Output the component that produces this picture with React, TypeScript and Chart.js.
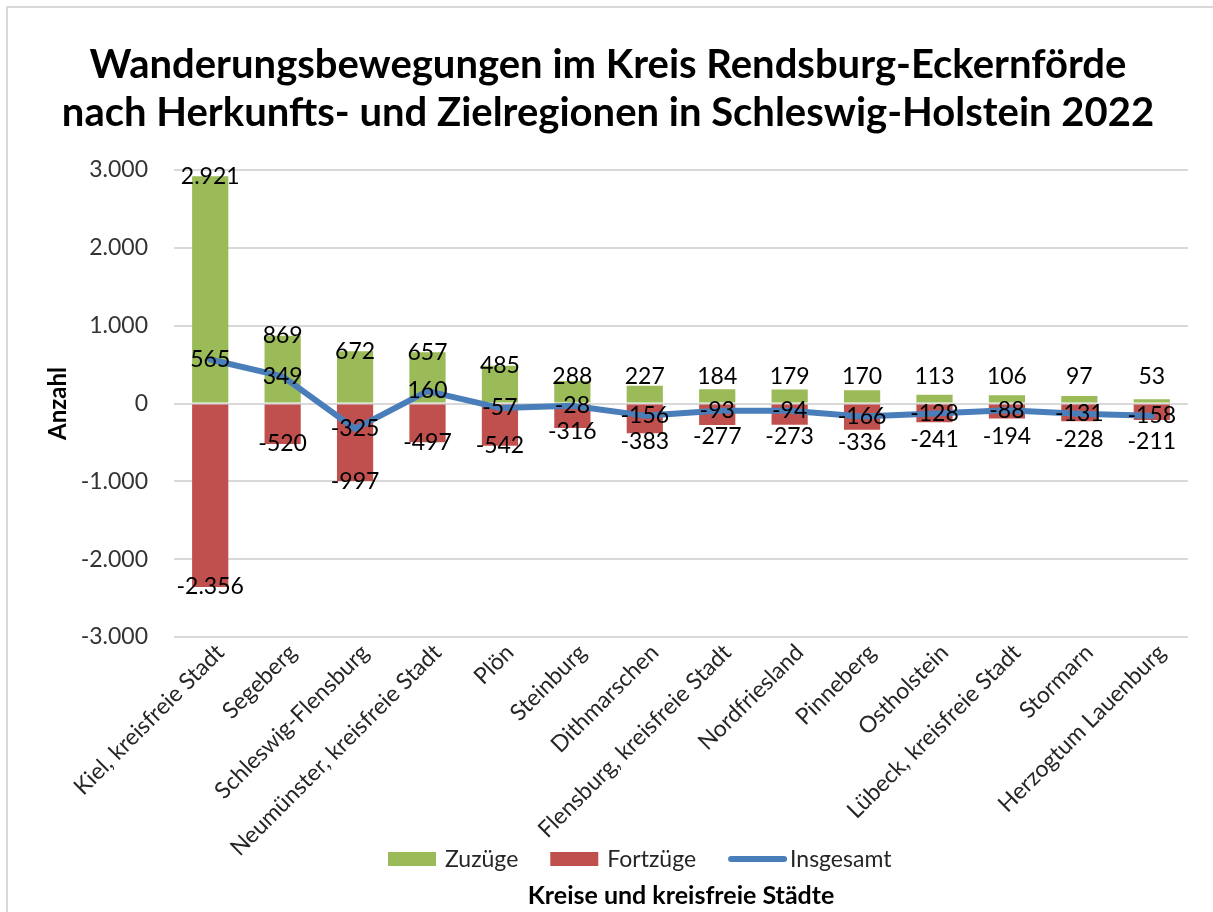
import React, { useEffect, useRef } from 'react';
import { Chart, registerables } from 'chart.js';

Chart.register(...registerables);

const titleLines = [
  'Wanderungsbewegungen im Kreis Rendsburg-Eckernförde',
  'nach Herkunfts- und Zielregionen in Schleswig-Holstein 2022',
];
const categories = [
  'Kiel, kreisfreie Stadt',
  'Segeberg',
  'Schleswig-Flensburg',
  'Neumünster, kreisfreie Stadt',
  'Plön',
  'Steinburg',
  'Dithmarschen',
  'Flensburg, kreisfreie Stadt',
  'Nordfriesland',
  'Pinneberg',
  'Ostholstein',
  'Lübeck, kreisfreie Stadt',
  'Stormarn',
  'Herzogtum Lauenburg',
];
const zuzuege = [2921, 869, 672, 657, 485, 288, 227, 184, 179, 170, 113, 106, 97, 53];
const fortzuege = [-2356, -520, -997, -497, -542, -316, -383, -277, -273, -336, -241, -194, -228, -211];
const insgesamt = [565, 349, -325, 160, -57, -28, -156, -93, -94, -166, -128, -88, -131, -158];
const yTickValues = [-3000, -2000, -1000, 0, 1000, 2000, 3000];
const seriesNames = ['Zuzüge', 'Fortzüge', 'Insgesamt'];
const xAxisTitle = 'Kreise und kreisfreie Städte';
const yAxisTitle = 'Anzahl';

const GREEN = '#9BBB59';
const RED = '#C0504D';
const BLUE = '#4A7EBB';
const FONT = 'Lato, "Open Sans", sans-serif';

const fmt = (v: number) => {
  const s = Math.abs(Math.round(v)).toString().replace(/\B(?=(\d{3})+(?!\d))/g, '.');
  return (v < 0 ? '-' : '') + s;
};

const valueLabels = {
  id: 'valueLabels',
  afterDatasetsDraw(chart: any) {
    const { ctx } = chart;
    const xs = chart.scales.x;
    const ys = chart.scales.y;
    const zero = ys.getPixelForValue(0);
    ctx.save();
    ctx.font = `23px ${FONT}`;
    ctx.fillStyle = '#000';
    ctx.textAlign = 'center';
    ctx.textBaseline = 'middle';
    categories.forEach((_, i) => {
      const px = xs.getPixelForValue(i);
      const lineY = ys.getPixelForValue(insgesamt[i]);
      const zy = Math.min(ys.getPixelForValue(zuzuege[i]), zero - 27);
      const fy = Math.max(ys.getPixelForValue(fortzuege[i]), lineY + 26);
      ctx.fillText(fmt(zuzuege[i]), px, zy);
      ctx.fillText(fmt(fortzuege[i]), px, fy);
      ctx.fillText(fmt(insgesamt[i]), px, lineY);
    });
    ctx.restore();
  },
};

const customLegend = {
  id: 'customLegend',
  afterDraw(chart: any) {
    const { ctx } = chart;
    const datasets = chart.data.datasets;
    const order = [1, 2, 0];
    ctx.save();
    ctx.font = `23px ${FONT}`;
    ctx.textBaseline = 'middle';
    ctx.textAlign = 'left';
    let x = 380;
    const y = chart.height - 53;
    order.forEach((di) => {
      const ds = datasets[di];
      if (ds.type === 'line') {
        ctx.strokeStyle = ds.borderColor;
        ctx.lineWidth = 6;
        ctx.lineCap = 'round';
        ctx.beginPath();
        ctx.moveTo(x + 3, y);
        ctx.lineTo(x + 56, y);
        ctx.stroke();
        x += 62;
      } else {
        ctx.fillStyle = ds.backgroundColor;
        ctx.fillRect(x, y - 7, 48, 14);
        x += 57;
      }
      ctx.fillStyle = '#262626';
      ctx.fillText(ds.label, x, y + 1);
      x += ctx.measureText(ds.label).width + 32;
    });
    ctx.restore();
  },
};

export default function App() {
  const ref = useRef<HTMLCanvasElement | null>(null);
  useEffect(() => {
    if (!ref.current) return;
    Chart.defaults.font.family = FONT;
    const chart = new Chart(ref.current, {
      type: 'bar',
      data: {
        labels: categories,
        datasets: [
          {
            type: 'line',
            label: seriesNames[2],
            data: insgesamt,
            borderColor: BLUE,
            backgroundColor: BLUE,
            borderWidth: 6,
            pointRadius: 0,
            borderCapStyle: 'round',
            borderJoinStyle: 'round',
            tension: 0,
            order: 0,
            stack: 'total',
          } as any,
          {
            type: 'bar',
            label: seriesNames[0],
            data: zuzuege,
            backgroundColor: GREEN,
            categoryPercentage: 0.5,
            barPercentage: 1,
            order: 1,
            stack: 'bars',
          },
          {
            type: 'bar',
            label: seriesNames[1],
            data: fortzuege,
            backgroundColor: RED,
            categoryPercentage: 0.5,
            barPercentage: 1,
            order: 1,
            stack: 'bars',
          },
        ],
      },
      options: {
        responsive: false,
        animation: false,
        layout: { padding: { left: 20, right: 25 } },
        plugins: {
          legend: { display: false },
          tooltip: { enabled: false },
          title: {
            display: true,
            text: titleLines,
            color: '#000',
            font: { size: 40, weight: 'bold', family: FONT, lineHeight: 1.2 },
            padding: { top: 33, bottom: 33 },
          },
        },
        scales: {
          x: {
            stacked: true,
            grid: { display: false, drawTicks: false },
            border: { display: false },
            ticks: {
              autoSkip: false,
              maxRotation: 45,
              minRotation: 45,
              color: '#262626',
              font: { size: 23 },
              padding: 2,
              labelOffset: 10,
            },
            title: {
              display: true,
              text: xAxisTitle,
              color: '#000',
              font: { size: 25, weight: 'bold' },
              padding: { top: 0, bottom: 1 },
            },
            afterFit: (s: any) => {
              s.height = 275;
            },
          },
          y: {
            stacked: true,
            min: -3000,
            max: 3000,
            afterBuildTicks: (s: any) => {
              s.ticks = yTickValues.map((v) => ({ value: v }));
            },
            ticks: {
              callback: (v: any) => fmt(Number(v)),
              color: '#333',
              font: { size: 23 },
              padding: 26,
            },
            grid: { color: '#D9D9D9', lineWidth: 2, drawTicks: false },
            border: { display: false },
            title: {
              display: true,
              text: yAxisTitle,
              color: '#000',
              font: { size: 24, weight: 'bold' },
              padding: { top: 16, bottom: 0 },
            },
            afterFit: (s: any) => {
              s.width = 146;
            },
          },
        },
      },
      plugins: [valueLabels, customLegend],
    });
    return () => chart.destroy();
  }, []);

  return (
    <div
      style={{
        position: 'fixed',
        top: 6,
        left: 6,
        borderTop: '2px solid #D9D9D9',
        borderLeft: '2px solid #D9D9D9',
        background: '#fff',
      }}
    >
      <canvas ref={ref} width={1205} height={904} style={{ display: 'block', width: 1205, height: 904 }} />
    </div>
  );
}
